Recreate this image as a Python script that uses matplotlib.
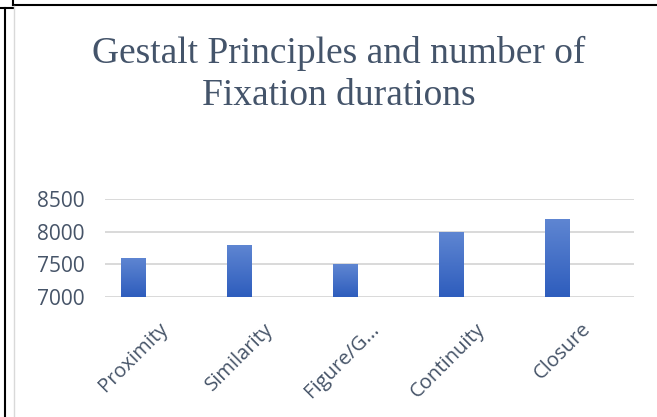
import matplotlib
matplotlib.use("Agg")
import matplotlib.pyplot as plt
import numpy as np
from matplotlib.colors import LinearSegmentedColormap
from matplotlib.lines import Line2D

# Datos
categories = ['Proximity', 'Similarity', 'Figure/G...', 'Continuity', 'Closure']
fixations = [7600, 7800, 7500, 8000, 8200]
y_ticks = [7000, 7500, 8000, 8500]

title = 'Gestalt Principles and number of\nFixation durations'

# Degradado de las barras (claro arriba, oscuro abajo)
grad = LinearSegmentedColormap.from_list('bar_grad', ['#2E5DBD', '#5F86D2'])
text_col = '#465468'

fig = plt.figure(figsize=(6.57, 4.17), dpi=100)
ax = fig.add_axes([0.160, 0.288, 0.805, 0.235])

x = np.arange(len(categories))
offset = -0.228
width = 0.235
bars = ax.bar(x + offset, fixations, width=width, color='none', zorder=3)

for b in bars:
    x0, y0 = b.get_x(), b.get_y()
    w, h = b.get_width(), b.get_height()
    img = ax.imshow(np.linspace(0, 1, 100).reshape(-1, 1), cmap=grad,
                    extent=[x0, x0 + w, 7000, y0 + h], origin='lower',
                    aspect='auto', zorder=3)
    img.set_clip_path(b)

ax.set_xlim(-0.5, len(categories) - 0.5)
ax.set_ylim(7000, 8500)

ax.set_yticks(y_ticks)
ax.yaxis.grid(True, color='#D9D9D9', linewidth=1.4, zorder=0)
ax.set_axisbelow(True)
for s in ax.spines.values():
    s.set_visible(False)

ax.tick_params(axis='y', length=0, pad=15, labelsize=15, labelcolor=text_col)
ax.tick_params(axis='x', length=0, pad=16)
ax.set_xticks(x)
ax.set_xticklabels(categories, rotation=45, ha='right', rotation_mode='anchor',
                   fontsize=14.5, color=text_col, family='Open Sans')
for t in ax.get_yticklabels():
    t.set_family('Open Sans')

fig.text(0.516, 0.915, title, ha='center', va='top', fontsize=27,
         family='Liberation Serif', color='#44546A', linespacing=1.3)

# Marco
fig.add_artist(Line2D([0.02, 1.0], [0.988, 0.988], color='black', lw=1.5,
                      transform=fig.transFigure))
fig.add_artist(Line2D([0.02, 0.02], [1.0, 0.988], color='black', lw=1.5,
                      transform=fig.transFigure))
fig.add_artist(Line2D([0.0, 0.02], [0.982, 0.982], color='black', lw=1.5,
                      transform=fig.transFigure))
fig.add_artist(Line2D([0.008, 0.008], [0.0, 0.982], color='black', lw=1.5,
                      transform=fig.transFigure))
fig.add_artist(Line2D([0.021, 0.021], [0.0, 0.985], color='#D9D9D9', lw=1,
                      transform=fig.transFigure))

plt.savefig('out.png', dpi=100)
